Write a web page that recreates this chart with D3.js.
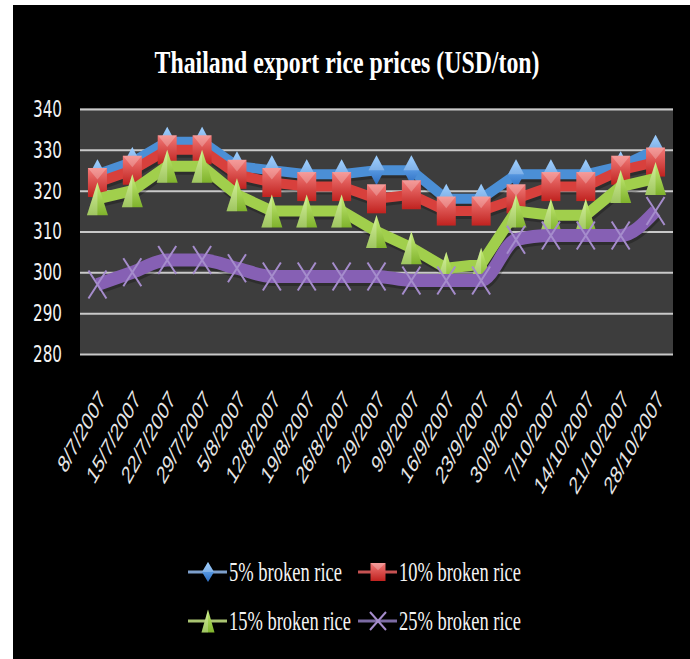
<!DOCTYPE html>
<html>
<head>
<meta charset="utf-8">
<script src="https://cdn.jsdelivr.net/npm/d3@7"></script>
<style>
  body { margin: 0; background: #ffffff; }
</style>
</head>
<body>
<svg width="690" height="659"></svg>
<script>
var svg = d3.select('svg')

var categories = ["8/7/2007", "15/7/2007", "22/7/2007", "29/7/2007", "5/8/2007", "12/8/2007",
	"19/8/2007", "26/8/2007", "2/9/2007", "9/9/2007", "16/9/2007", "23/9/2007", "30/9/2007",
	"7/10/2007", "14/10/2007", "21/10/2007", "28/10/2007"]

var broken5 = [324, 327, 332, 332, 326, 325, 324, 324, 325, 325, 318, 318, 324, 324, 324, 326, 330]
var broken10 = [322, 325, 330, 330, 324, 322, 321, 321, 318, 319, 315, 315, 318, 321, 321, 325, 327]
var broken15 = [318, 320, 326, 326, 319, 315, 315, 315, 310, 306, 301, 302, 315, 314, 314, 321, 323]
var broken25 = [297, 300, 303, 303, 301, 299, 299, 299, 299, 298, 298, 298, 308, 309, 309, 309, 315]

var seriesNames = ["5% broken rice", "10% broken rice", "15% broken rice", "25% broken rice"]
var yTicks = [280, 290, 300, 310, 320, 330, 340]

var series = [
	{name: seriesNames[0], values: broken5, shape: 'diamond', line: '#4b8fd6', grad: 'gBlue', width: 10},
	{name: seriesNames[1], values: broken10, shape: 'square', line: '#d8403c', grad: 'gRed', width: 10},
	{name: seriesNames[2], values: broken15, shape: 'triangle', line: '#a1cf4c', grad: 'gGreen', width: 11},
	{name: seriesNames[3], values: broken25, shape: 'cross', line: '#8660b4', grad: null, width: 13}
]

// black panel
svg.append('rect').attr('x', 13).attr('y', 5).attr('width', 677).attr('height', 654).attr('fill', '#000')

// gradients for the markers
var defs = svg.append('defs')
function gradient(id, top, bottom) {
	var g = defs.append('linearGradient').attr('id', id).attr('x1', 0).attr('y1', 0).attr('x2', 0).attr('y2', 1)
	g.append('stop').attr('offset', '0%').attr('stop-color', top)
	g.append('stop').attr('offset', '100%').attr('stop-color', bottom)
}
gradient('gBlue', '#7fc0ff', '#2b6cc0')
gradient('gRed', '#f27a78', '#c0221f')
gradient('gGreen', '#c8ef7a', '#7fb22c')

var x = d3.scaleBand().domain(categories).range([80, 673]).padding(0)
var y = d3.scaleLinear().domain([280, 340]).range([354, 109])
function cx(d) { return x(d) + x.bandwidth() / 2 }

// plot area
svg.append('rect').attr('x', 80).attr('y', y(340) - 1).attr('width', 593).attr('height', y(280) - y(340) + 1)
	.attr('fill', '#3d3d3d')

// gridlines
var grid = svg.append('g').attr('transform', 'translate(80,0)')
	.call(d3.axisLeft(y).tickValues(yTicks).tickSize(-593).tickFormat(''))
grid.select('.domain').remove()
grid.selectAll('line').attr('stroke', '#c9c9c9').attr('stroke-width', 2)

// y labels
var yAxis = svg.append('g').attr('transform', 'translate(80,0)')
	.call(d3.axisLeft(y).tickValues(yTicks).tickSize(0).tickPadding(18))
yAxis.select('.domain').remove()
yAxis.selectAll('text')
	.attr('fill', '#f2f2f2')
	.attr('font-family', 'Liberation Sans Narrow, DejaVu Sans Condensed, Liberation Sans, sans-serif')
	.attr('font-size', 23)
	.attr('textLength', 29)
	.attr('lengthAdjust', 'spacingAndGlyphs')

// x labels, slanted and squeezed like the original
var xAxis = svg.append('g').attr('transform', 'translate(0,354)')
	.call(d3.axisBottom(x).tickSize(0))
xAxis.select('.domain').remove()
xAxis.selectAll('text')
	.attr('fill', '#e6e6e6')
	.attr('font-family', 'Liberation Sans, Arial, sans-serif')
	.attr('font-size', 25)
	.attr('text-anchor', 'end')
	.attr('x', 0).attr('y', 0).attr('dy', 0)
	.attr('transform', 'translate(9,46) scale(0.66,1) rotate(-50)')

// marker shapes
function markerPath(shape, w, h) {
	if (shape == 'diamond') return 'M0,' + (-h/2) + 'L' + (w/2) + ',0L0,' + (h/2) + 'L' + (-w/2) + ',0Z'
	if (shape == 'square') return 'M' + (-w/2) + ',' + (-h/2) + 'h' + w + 'v' + h + 'h' + (-w) + 'Z'
	if (shape == 'triangle') return 'M0,' + (-h/2) + 'L' + (w/2) + ',' + (h/2) + 'L' + (-w/2) + ',' + (h/2) + 'Z'
	return 'M' + (-w/2) + ',' + (-h/2) + 'L' + (w/2) + ',' + (h/2) + 'M' + (w/2) + ',' + (-h/2) + 'L' + (-w/2) + ',' + (h/2)
}
function highlightPath(shape, w, h) {
	if (shape == 'diamond') return 'M0,' + (-h/2) + 'L' + (w/2) + ',0L' + (-w/2) + ',0Z'
	if (shape == 'square') return 'M' + (-w/2) + ',' + (-h/2) + 'L' + (w/2) + ',' + (-h/2) + 'L0,' + (-h/2 + h*0.4) + 'Z'
	if (shape == 'triangle') return 'M0,' + (-h/2) + 'L0,' + (h/2) + 'L' + (-w/2) + ',' + (h/2) + 'Z'
	return null
}

function drawMarker(g, s, w, h) {
	if (s.shape == 'cross') {
		g.append('path').attr('d', markerPath('cross', w, h))
			.attr('fill', 'none').attr('stroke', '#a58ccc').attr('stroke-width', 2)
		return
	}
	g.append('path').attr('d', markerPath(s.shape, w, h)).attr('fill', 'url(#' + s.grad + ')')
	g.append('path').attr('d', highlightPath(s.shape, w, h)).attr('fill', '#ffffff').attr('opacity', 0.25)
}

var sizes = {diamond: [16, 30], square: [19, 29], triangle: [21, 33], cross: [18, 28]}

series.forEach(function(s) {
	var pts = categories.map(function(c, i) { return {c: c, v: s.values[i]} })
	var line = d3.line()
		.x(function(d) { return cx(d.c) })
		.y(function(d) { return y(d.v) })
		.curve(s.shape == 'cross' ? d3.curveMonotoneX : d3.curveLinear)

	// soft shadow under the line
	svg.append('path').datum(pts).attr('d', line).attr('fill', 'none')
		.attr('stroke', '#000').attr('stroke-opacity', 0.25).attr('stroke-width', s.width)
		.attr('stroke-linejoin', 'round').attr('transform', 'translate(1,3)')
	svg.append('path').datum(pts).attr('d', line).attr('fill', 'none')
		.attr('stroke', s.line).attr('stroke-width', s.width).attr('stroke-linejoin', 'round')

	var m = svg.append('g').selectAll('g').data(pts).enter().append('g')
		.attr('transform', function(d) { return 'translate(' + cx(d.c) + ',' + y(d.v) + ')' })
	m.each(function() { drawMarker(d3.select(this), s, sizes[s.shape][0], sizes[s.shape][1]) })
})

// title
svg.append('text').text('Thailand export rice prices (USD/ton)')
	.attr('x', 347).attr('y', 73)
	.attr('text-anchor', 'middle')
	.attr('font-family', 'Liberation Serif, Times New Roman, serif')
	.attr('font-weight', 'bold')
	.attr('font-size', 32)
	.attr('fill', '#ffffff')
	.attr('textLength', 385)
	.attr('lengthAdjust', 'spacingAndGlyphs')

// legend
var legendPos = [[188, 572, 113], [358, 572, 122], [188, 621, 122], [358, 621, 122]]
var legendLine = ['#7d9fcc', '#c65252', '#a9c472', '#7b6aa3']
var legendSizes = {diamond: [12, 20], square: [15, 18], triangle: [13, 23], cross: [16, 18]}

series.forEach(function(s, i) {
	var p = legendPos[i]
	var g = svg.append('g').attr('transform', 'translate(' + p[0] + ',' + p[1] + ')')
	g.append('line').attr('x1', 0).attr('x2', 39).attr('y1', 0).attr('y2', 0)
		.attr('stroke', legendLine[i]).attr('stroke-width', 3)
	var mk = g.append('g').attr('transform', 'translate(20,0)')
	drawMarker(mk, s, legendSizes[s.shape][0], legendSizes[s.shape][1])
	g.append('text').text(s.name)
		.attr('x', 41).attr('y', 9)
		.attr('font-family', 'Liberation Serif, Times New Roman, serif')
		.attr('font-size', 27)
		.attr('fill', '#f4f4f4')
		.attr('textLength', p[2])
		.attr('lengthAdjust', 'spacingAndGlyphs')
})
</script>
</body>
</html>
